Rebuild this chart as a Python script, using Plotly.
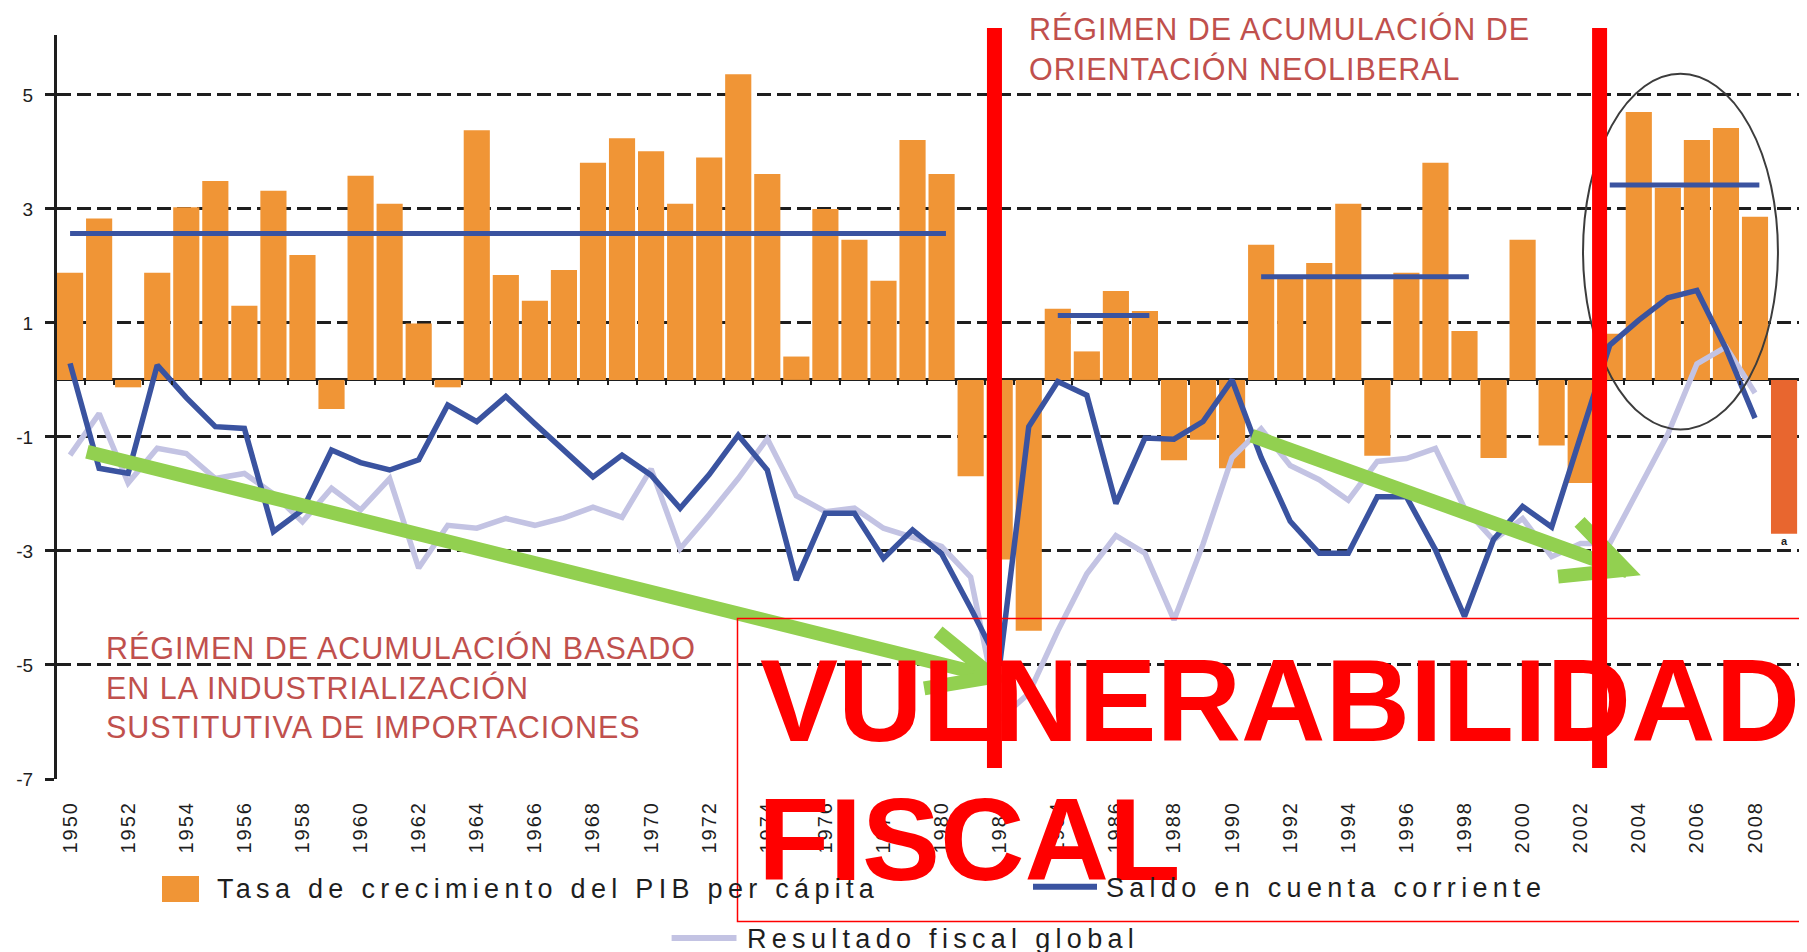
import plotly.graph_objects as go

# ---------------- data ----------------
years = list(range(1950, 2010))
gdp_per_capita_growth = [
    1.88, 2.83, -0.13, 1.88, 3.03, 3.49, 1.30, 3.32, 2.19, -0.51,     # 1950-59
    3.58, 3.09, 0.99, -0.13, 4.38, 1.84, 1.39, 1.93, 3.81, 4.24,      # 1960-69
    4.01, 3.09, 3.90, 5.36, 3.61, 0.41, 3.00, 2.46, 1.74, 4.21,       # 1970-79
    3.61, -1.69, -3.15, -4.40, 1.25, 0.50, 1.56, 1.21, -1.41, -1.05,  # 1980-89
    -1.55, 2.37, 1.78, 2.05, 3.09, -1.33, 1.88, 3.81, 0.86, -1.37,    # 1990-99
    2.46, -1.15, -1.81, 0.81, 4.70, 3.37, 4.21, 4.42, 2.86, -2.70,    # 2000-09
]
line_years = list(range(1950, 2009))
current_account = [
    0.29, -1.55, -1.64, 0.26, -0.31, -0.82, -0.85, -2.66, -2.28, -1.23,
    -1.45, -1.58, -1.40, -0.44, -0.73, -0.29, -0.77, -1.24, -1.70, -1.32,
    -1.67, -2.25, -1.66, -0.97, -1.58, -3.51, -2.34, -2.34, -3.13, -2.63,
    -3.05, -4.00, -5.00, -0.82, -0.03, -0.27, -2.17, -1.02, -1.04, -0.73,
    0.00, -1.36, -2.48, -3.04, -3.04, -2.05, -2.05, -2.98, -4.15, -2.80,
    -2.22, -2.58, -1.00, 0.61, 1.05, 1.44, 1.57, 0.55, -0.67,
]
fiscal_result = [
    -1.32, -0.59, -1.81, -1.20, -1.29, -1.73, -1.64, -2.00, -2.49, -1.90,
    -2.28, -1.73, -3.30, -2.55, -2.60, -2.43, -2.55, -2.42, -2.23, -2.41,
    -1.56, -2.96, -2.36, -1.73, -1.03, -2.03, -2.31, -2.25, -2.60, -2.75,
    -2.92, -3.46, -5.95, -5.50, -4.40, -3.40, -2.73, -3.04, -4.21, -2.88,
    -1.36, -0.86, -1.50, -1.75, -2.11, -1.43, -1.38, -1.20, -2.25, -2.81,
    -2.43, -3.10, -2.87, -2.87, -1.90, -0.95, 0.28, 0.58, -0.23,
]
# period averages of GDP per capita growth
avg_start = [1950, 1984, 1991, 2003]
avg_end = [1980.15, 1987.15, 1998.15, 2008.15]
avg_value = [2.57, 1.13, 1.81, 3.42]

y_ticks = [5, 3, 1, -1, -3, -5, -7]
x_tick_years = list(range(1950, 2009, 2))

legend_gdp = "Tasa de crecimiento del PIB per cápita"
legend_ca = "Saldo en cuenta corriente"
legend_fiscal = "Resultado fiscal global"
text_isi = ["RÉGIMEN DE ACUMULACIÓN BASADO", "EN LA INDUSTRIALIZACIÓN",
            "SUSTITUTIVA DE IMPORTACIONES"]
text_neo = ["RÉGIMEN DE ACUMULACIÓN DE", "ORIENTACIÓN NEOLIBERAL"]

# ---------------- geometry / style ----------------
# The page body has an 8px margin, so the figure is made 8px smaller and all
# page-pixel positions below are converted into figure coordinates.
OFF = 8
W, H = 1807 - OFF, 952 - OFF
ML, MR, MT, MB = 57 - OFF, 0, 35 - OFF, 173
X_RANGE = [1949.55, 2009.79]
Y_RANGE = [-7, 6.05]
PW, PH = W - ML - MR, H - MT - MB


def px_x(px):
    return (px - OFF - ML) / PW


def px_y(py):
    return (H - MB - (py - OFF)) / PH


FONT = "Liberation Sans, Arial, Helvetica, sans-serif"
ORANGE = "#F09536"
ORANGE_DARK = "#E8662F"
BLUE = "#3A53A0"
LAVENDER = "#C3C3E3"
GREEN = "#92D050"
RED = "#FF0000"
TEXT_RED = "#C0504D"
INK = "#1E1E1E"

fig = go.Figure()

bar_colors = [ORANGE_DARK if y == years[-1] else ORANGE for y in years]
fig.add_trace(go.Bar(x=years, y=gdp_per_capita_growth, name=legend_gdp,
                     marker=dict(color=bar_colors, line=dict(width=0)),
                     showlegend=False))
fig.add_trace(go.Scatter(x=line_years, y=fiscal_result, name=legend_fiscal,
                         mode="lines", line=dict(color=LAVENDER, width=5.5),
                         showlegend=False))
for s, e, v in zip(avg_start, avg_end, avg_value):
    fig.add_trace(go.Scatter(x=[s, e], y=[v, v], mode="lines",
                             line=dict(color=BLUE, width=5), showlegend=False,
                             hoverinfo="skip"))
fig.add_trace(go.Scatter(x=line_years, y=current_account, name=legend_ca,
                         xaxis="x2", mode="lines",
                         line=dict(color=BLUE, width=5.5), showlegend=False))

# ---------------- shapes ----------------
shapes = []


def path(points, color, width):
    d = "M " + " L ".join(f"{x},{y}" for x, y in points)
    return dict(type="path", xref="x", yref="y", path=d,
                line=dict(color=color, width=width), layer="above")


# green trend arrows
shapes.append(path([(1950.58, -1.26), (1981.78, -5.21)], GREEN, 14))
shapes.append(path([(1979.88, -4.42), (1981.78, -5.21), (1979.40, -5.41)], GREEN, 14))
shapes.append(path([(1990.68, -0.98), (2003.62, -3.36)], GREEN, 14))
shapes.append(path([(2001.96, -2.49), (2003.55, -3.33), (2001.22, -3.45)], GREEN, 14))

# ellipse around the 2003-2008 boom
shapes.append(dict(type="circle", xref="x", yref="y", x0=2002.08, x1=2008.79,
                   y0=-0.87, y1=5.37, line=dict(color="#3C3C3C", width=2),
                   layer="above"))
# red regime breaks
for xv in (1981.82, 2002.65):
    shapes.append(dict(type="line", xref="x", yref="paper", x0=xv, x1=xv,
                       y0=px_y(768), y1=px_y(28),
                       line=dict(color=RED, width=15), layer="above"))
# thin red box around the big label
shapes.append(dict(type="rect", xref="paper", yref="paper",
                   x0=px_x(737.5), x1=px_x(1804), y0=px_y(921.5), y1=px_y(618.5),
                   line=dict(color=RED, width=1.5), fillcolor="rgba(0,0,0,0)",
                   layer="above"))
# legend swatches
shapes.append(dict(type="rect", xref="paper", yref="paper",
                   x0=px_x(162), x1=px_x(199), y0=px_y(902), y1=px_y(876),
                   line=dict(width=0), fillcolor=ORANGE, layer="above"))
shapes.append(dict(type="line", xref="paper", yref="paper",
                   x0=px_x(1033), x1=px_x(1097), y0=px_y(886.7), y1=px_y(886.7),
                   line=dict(color=BLUE, width=6), layer="above"))
shapes.append(dict(type="line", xref="paper", yref="paper",
                   x0=px_x(671.6), x1=px_x(736.5), y0=px_y(938), y1=px_y(938),
                   line=dict(color=LAVENDER, width=6), layer="above"))

# ---------------- annotations ----------------
annotations = []


def text_ann(lines, left, top, size, color, weight=400, spacing=None):
    if spacing:
        lines = [f'<span style="letter-spacing:{spacing}px">{t}</span>' for t in lines]
    return dict(text="<br>".join(lines), xref="paper", yref="paper",
                x=px_x(left), y=px_y(top), xanchor="left", yanchor="top",
                align="left", showarrow=False, borderpad=0, borderwidth=0,
                font=dict(family=FONT, size=size, color=color, weight=weight))


annotations.append(text_ann(text_neo, 1028.7, 11.5, 30.5, TEXT_RED, spacing=1.0))
annotations.append(text_ann(text_isi, 106.4, 630.5, 30.5, TEXT_RED, spacing=1.0))
annotations.append(text_ann(["VULNERABILIDAD"], 760, 634.5, 117, RED, weight=700))
annotations.append(text_ann(["FISCAL"], 757.5, 773.5, 117, RED, weight=700))
annotations.append(text_ann([legend_gdp], 217.4, 873.9, 27, INK, spacing=5.3))
annotations.append(text_ann([legend_ca], 1105.8, 872.9, 27, INK, spacing=5.3))
annotations.append(text_ann([legend_fiscal], 747, 923.9, 27, INK, spacing=5.3))
annotations.append(dict(text="a", xref="x", yref="y", x=years[-1],
                        y=gdp_per_capita_growth[-1], xanchor="center",
                        yanchor="top", showarrow=False, borderpad=0,
                        font=dict(family=FONT, size=11, color=INK, weight=700)))

fig.update_layout(
    width=W, height=H,
    margin=dict(l=ML, r=MR, t=MT, b=MB, pad=0),
    paper_bgcolor="white", plot_bgcolor="white",
    bargap=0.1, showlegend=False,
    xaxis=dict(range=X_RANGE, tickmode="array", tickvals=x_tick_years,
               ticktext=[f'<span style="letter-spacing:2px">{y}</span>'
                         for y in x_tick_years],
               tickangle=-90, ticks="", showgrid=False, zeroline=False,
               showline=False, ticklabelstandoff=17, automargin=False,
               tickfont=dict(family=FONT, size=20, color=INK)),
    xaxis2=dict(overlaying="x", anchor="free",
                position=-Y_RANGE[0] / (Y_RANGE[1] - Y_RANGE[0]),
                range=X_RANGE, tickmode="array",
                tickvals=[y + 0.5 for y in years[:-1]],
                ticks="outside", ticklen=4, tickwidth=2, tickcolor=INK,
                showticklabels=False, showgrid=False, zeroline=False,
                showline=False),
    yaxis=dict(range=Y_RANGE, tickmode="array", tickvals=y_ticks,
               ticktext=[str(v) for v in y_ticks],
               ticks="outside", ticklen=9, tickwidth=2.5, tickcolor=INK,
               showline=True, linecolor=INK, linewidth=3,
               showgrid=True, gridcolor=INK, gridwidth=2.5, griddash="14px,6px",
               zeroline=True, zerolinecolor=INK, zerolinewidth=2.5,
               ticklabelstandoff=8, automargin=False,
               tickfont=dict(family=FONT, size=19, color=INK)),
    shapes=shapes,
    annotations=annotations,
)

fig.write_html("out.html")
